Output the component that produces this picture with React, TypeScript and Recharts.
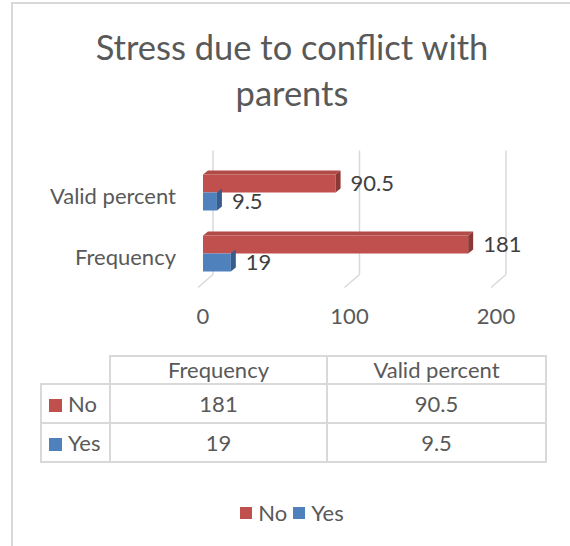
import React from "react";
import { BarChart, Bar, XAxis, YAxis, CartesianGrid, LabelList, Legend } from "recharts";

const categories = ["Valid percent", "Frequency"];
const noValues = [90.5, 181];
const yesValues = [9.5, 19];
const xTicks = [0, 100, 200];
const tableColumns = ["Frequency", "Valid percent"];
const seriesNames = ["No", "Yes"];

const RED = "#C0504D";
const RED_DARK = "#8C3836";
const RED_TOP = "#B24A47";
const BLUE = "#4F81BD";
const BLUE_DARK = "#385D8A";
const TEXT = "#595959";
const GRID = "#D9D9D9";
const FONT = "Lato, 'Open Sans', sans-serif";
const FS = 22;

const data = categories.map((c, i) => ({ category: c, No: noValues[i], Yes: yesValues[i] }));

// 3D-ish bar: front face + right side (+ top face for the upper series)
function Bar3D(props: any) {
  const { x, y, width, height, fill, side, topFill } = props;
  const dx = 5;
  const dy = 4;
  if (width == null || height == null) return null;
  return (
    <g>
      {topFill && (
        <polygon
          points={`${x},${y} ${x + dx},${y - dy} ${x + width + dx},${y - dy} ${x + width},${y}`}
          fill={topFill}
        />
      )}
      <rect x={x} y={y} width={width} height={height} fill={fill} />
      <polygon
        points={`${x + width},${y} ${x + width + dx},${y - dy} ${x + width + dx},${y + height - dy} ${x + width},${y + height}`}
        fill={side}
      />
    </g>
  );
}

// back-wall gridline with the little floor diagonal
function GridLine3D(props: any) {
  const { x1, y1, y2 } = props;
  return (
    <g>
      <line x1={x1 + 10} y1={y1 - 11} x2={x1 + 10} y2={y2 - 9} stroke={GRID} strokeWidth={1.5} />
      <line x1={x1 + 10} y1={y2 - 9} x2={x1 - 5} y2={y2 + 4} stroke={GRID} strokeWidth={1.5} />
    </g>
  );
}

function CategoryTick(props: any) {
  const { x, y, payload } = props;
  return (
    <text x={x} y={y} dy={12} textAnchor="end" fill={TEXT} fontSize={FS} fontFamily={FONT}>
      {payload.value}
    </text>
  );
}

function LegendContent(props: any) {
  const payload = props.payload || [];
  return (
    <div style={{ display: "flex", justifyContent: "center", alignItems: "center", fontFamily: FONT, fontSize: FS, color: TEXT }}>
      {payload.map((p: any, i: number) => (
        <span key={p.value} style={{ display: "flex", alignItems: "center", marginRight: i === 0 ? 6 : 0 }}>
          <span style={{ width: 12, height: 12, background: p.color, display: "inline-block", marginRight: 6 }} />
          {p.value}
        </span>
      ))}
    </div>
  );
}

const cellBorder = `2px solid ${GRID}`;

function DataTable() {
  const colIndex = tableColumns.map((c) => categories.indexOf(c));
  const rows = [
    { name: seriesNames[0], color: RED, values: colIndex.map((i) => noValues[i]) },
    { name: seriesNames[1], color: BLUE, values: colIndex.map((i) => yesValues[i]) },
  ];
  const cell: React.CSSProperties = { border: cellBorder, textAlign: "center", padding: 0, lineHeight: "24px" };
  return (
    <table
      style={{
        position: "absolute", left: 40, top: 355, borderCollapse: "collapse",
        fontFamily: FONT, fontSize: FS, color: TEXT, tableLayout: "fixed",
      }}
    >
      <tbody>
        <tr style={{ height: 28 }}>
          <td style={{ width: 66, border: "none", borderRight: cellBorder, borderBottom: cellBorder }} />
          {tableColumns.map((c, i) => (
            <td key={c} style={{ ...cell, width: i === 0 ? 215 : 217 }}>{c}</td>
          ))}
        </tr>
        {rows.map((r) => (
          <tr key={r.name} style={{ height: 39 }}>
            <td style={{ ...cell, textAlign: "left", paddingLeft: 7 }}>
              <span style={{ display: "inline-block", width: 13, height: 13, background: r.color, marginRight: 6 }} />
              {r.name}
            </td>
            {r.values.map((v, i) => (
              <td key={i} style={cell}>{v}</td>
            ))}
          </tr>
        ))}
      </tbody>
    </table>
  );
}

export default function App() {
  return (
    <div style={{ position: "absolute", left: 0, top: 0, width: 570, height: 546, overflow: "hidden", background: "#fff", fontFamily: FONT }}>
      <div style={{ position: "absolute", left: 11, top: 2, width: 600, height: 600, border: `2px solid ${GRID}` }} />
      <div
        style={{
          position: "absolute", left: 0, top: 24, width: 584, textAlign: "center",
          fontSize: 34.5, lineHeight: "46px", color: TEXT, fontFamily: FONT,
        }}
      >
        Stress due to conflict with
        <br />
        parents
      </div>
      <div style={{ position: "absolute", left: 0, top: 0 }}>
        <BarChart
          width={570}
          height={546}
          data={data}
          layout="vertical"
          margin={{ top: 161.5, right: 74, bottom: 232.5, left: 0 }}
          barCategoryGap={12}
          barGap={0}
        >
          <CartesianGrid horizontal={false} vertical={(p: any) => <GridLine3D {...p} />} />
          <XAxis
            type="number"
            domain={[0, 200]}
            ticks={xTicks}
            height={30}
            axisLine={false}
            tickLine={false}
            tickSize={0}
            tickMargin={25}
            tick={{ fill: TEXT, fontSize: FS, fontFamily: FONT }}
          />
          <YAxis
            type="category"
            dataKey="category"
            width={203}
            axisLine={false}
            tickLine={false}
            tickSize={0}
            tickMargin={27}
            tick={<CategoryTick />}
          />
          <Legend
            layout="horizontal"
            verticalAlign="middle"
            align="center"
            wrapperStyle={{ top: 499, left: 0, width: 584 }}
            content={<LegendContent />}
          />
          <Bar
            dataKey="No"
            name="No"
            fill={RED}
            barSize={18}
            isAnimationActive={false}
            shape={(p: any) => <Bar3D {...p} side={RED_DARK} topFill={RED_TOP} />}
          >
            <LabelList dataKey="No" position="right" offset={15} fill="#404040" fontSize={FS} fontFamily={FONT} />
          </Bar>
          <Bar
            dataKey="Yes"
            name="Yes"
            fill={BLUE}
            barSize={18}
            isAnimationActive={false}
            shape={(p: any) => <Bar3D {...p} side={BLUE_DARK} />}
          >
            <LabelList dataKey="Yes" position="right" offset={15} fill="#404040" fontSize={FS} fontFamily={FONT} />
          </Bar>
        </BarChart>
      </div>
      <DataTable />
    </div>
  );
}
